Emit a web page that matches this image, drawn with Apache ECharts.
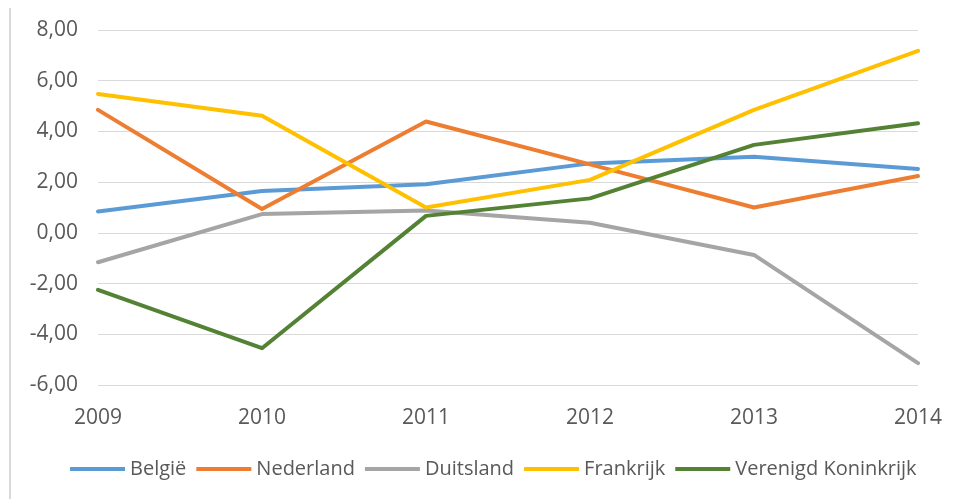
<!DOCTYPE html>
<html lang="nl">
<head>
<meta charset="UTF-8">
<title>Groei</title>
<script src="https://cdn.jsdelivr.net/npm/echarts@6/dist/echarts.min.js"></script>
<style>
  html, body { margin: 0; padding: 0; background: #fff; }
  #chart { width: 958px; height: 499px; }
</style>
</head>
<body>
<div id="chart"></div>
<script>
var years = ['2009', '2010', '2011', '2012', '2013', '2014'];
var belgie = [0.84, 1.65, 1.92, 2.74, 3.00, 2.52];
var nederland = [4.85, 0.94, 4.39, 2.70, 1.00, 2.24];
var duitsland = [-1.16, 0.74, 0.88, 0.40, -0.87, -5.14];
var frankrijk = [5.48, 4.62, 1.00, 2.09, 4.85, 7.18];
var verenigdKoninkrijk = [-2.25, -4.55, 0.67, 1.36, 3.47, 4.32];

var names = ['België', 'Nederland', 'Duitsland', 'Frankrijk', 'Verenigd Koninkrijk'];
var values = [belgie, nederland, duitsland, frankrijk, verenigdKoninkrijk];
var kleuren = ['#5B9BD5', '#ED7D31', '#A5A5A5', '#FFC000', '#548235'];

var series = names.map(function (n, i) {
  return {
    name: n,
    type: 'line',
    data: values[i],
    symbol: 'none',
    lineStyle: { width: 4, color: kleuren[i], cap: 'round', join: 'round' },
    itemStyle: { color: kleuren[i] }
  };
});

var chart = echarts.init(document.getElementById('chart'));
chart.setOption({
  animation: false,
  textStyle: { fontFamily: 'Open Sans' },
  grid: { left: 98, right: 40, top: 30, bottom: 114 },
  legend: {
    bottom: 15,
    left: 65,
    itemWidth: 55,
    itemHeight: 4,
    itemGap: 10,
    icon: 'rect',
    textStyle: { color: '#595959', fontSize: 20 },
    data: names
  },
  xAxis: {
    type: 'category',
    data: years,
    boundaryGap: false,
    axisLine: { show: false },
    axisTick: { show: false },
    axisLabel: { color: '#595959', fontSize: 21, margin: 23 }
  },
  yAxis: {
    type: 'value',
    min: -6,
    max: 8,
    interval: 2,
    axisLine: { show: false },
    axisTick: { show: false },
    axisLabel: {
      color: '#595959',
      fontSize: 21,
      margin: 20,
      formatter: function (v) { return v.toFixed(2).replace('.', ','); }
    },
    splitLine: { lineStyle: { color: '#D9D9D9', width: 1 } }
  },
  graphic: [{
    type: 'line',
    shape: { x1: 10, y1: 8, x2: 10, y2: 499 },
    style: { stroke: '#D9D9D9', lineWidth: 2 }
  }],
  series: series
});
</script>
</body>
</html>
